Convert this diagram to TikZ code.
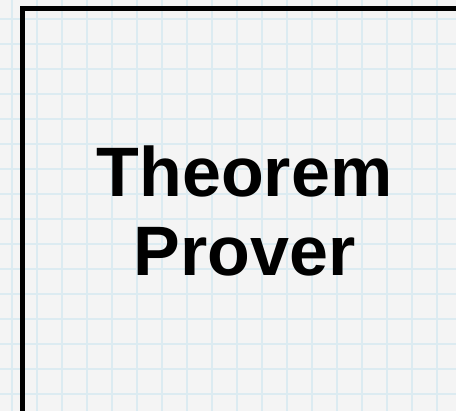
\documentclass[tikz,border=0pt]{standalone}
\usepackage{fontspec}
\setmainfont{Liberation Sans}
\usepackage{xcolor}
\definecolor{paper}{HTML}{F4F4F4}
\definecolor{gridblue}{HTML}{DCEBF1}

\begin{document}
\begin{tikzpicture}[x=1pt, y=-1pt,
      gridline/.style={draw=gridblue, line width=1.5pt},
      proverbox/.style={draw, line width=5.5pt, minimum width=444pt, minimum height=405pt,
        align=center, font=\fontsize{70}{79}\selectfont\bfseries, inner sep=0pt}]
    \clip (0,0) rectangle (456,411);
    \useasboundingbox (0,0) rectangle (456,411);
    \fill[paper] (0,0) rectangle (456,411);
    % squared paper
    \foreach \x in {12,37,...,456}
      \draw[gridline] (\x,0) -- (\x,411);
    \foreach \y in {19,44,...,411}
      \draw[gridline] (0,\y) -- (456,\y);
    \node[proverbox] (prover) at (244.5,211) {Theorem\\Prover};
  \end{tikzpicture}
\end{document}
